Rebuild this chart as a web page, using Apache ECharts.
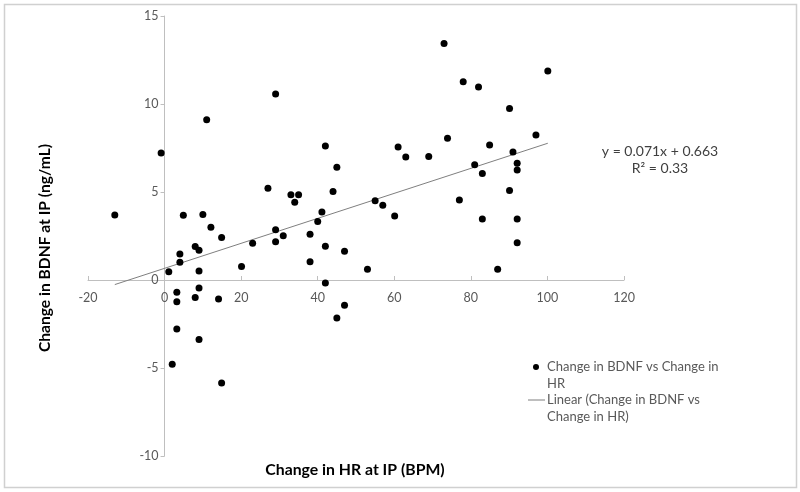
<!DOCTYPE html>
<html>
<head>
<meta charset="utf-8">
<script src="https://cdn.jsdelivr.net/npm/echarts@6/dist/echarts.min.js"></script>
<style>
html,body{margin:0;padding:0;background:#fff;}
#chart{width:800px;height:492px;}
</style>
</head>
<body>
<div id="chart"></div>
<script>
// Change in HR at IP (BPM)
var hrChange = [-13, -0.9, 1.1, 2.0, 3.2, 3.2, 3.2, 4.0, 4.0, 4.9,
  8.0, 8.0, 9.0, 9.0, 9.0, 9.0, 10.0, 11.0, 12.1, 14.1,
  14.9, 14.9, 20.1, 23.0, 27.0, 29.0, 29.0, 29.0, 31.0, 33.0,
  34.0, 35.0, 38.0, 38.0, 40.0, 41.1, 42.0, 42.0, 42.0, 44.0,
  45.0, 45.0, 47.0, 47.0, 53.0, 55.0, 57.0, 60.1, 61.0, 63.0,
  69.0, 73.0, 73.9, 77.0, 78.0, 81.0, 82.0, 83.0, 83.0, 84.9,
  87.0, 90.1, 90.1, 91.0, 92.1, 92.1, 92.1, 92.1, 97.0, 100.1];
// Change in BDNF at IP (ng/mL)
var bdnfChange = [3.7, 7.21, 0.47, -4.78, -0.70, -1.23, -2.79, 1.48, 1.01, 3.68,
  1.90, -0.99, 1.69, 0.51, -0.46, -3.38, 3.72, 9.11, 3.0, -1.08,
  2.41, -5.85, 0.76, 2.09, 5.22, 10.57, 2.85, 2.18, 2.52, 4.84,
  4.42, 4.84, 2.60, 1.04, 3.32, 3.87, 7.61, 1.92, -0.17, 5.03,
  6.40, -2.16, 1.63, -1.44, 0.61, 4.5, 4.25, 3.63, 7.56, 6.99,
  7.02, 13.44, 8.05, 4.55, 11.26, 6.55, 10.97, 6.05, 3.47, 7.67,
  0.61, 9.74, 5.09, 7.27, 6.64, 6.25, 3.47, 2.12, 8.24, 11.88];
// Linear trendline as shown on the chart
var trendSlope = 0.071;
var trendIntercept = 0.663;
var xTicks = {min: -20, max: 120, interval: 20};
var yTicks = {min: -10, max: 15, interval: 5};
var seriesName = 'Change in BDNF vs Change in HR';
var trendName = 'Linear (Change in BDNF vs Change in HR)';

var points = hrChange.map(function (x, i) { return [x, bdnfChange[i]]; });
var xMin = Math.min.apply(null, hrChange), xMax = Math.max.apply(null, hrChange);
var trend = [[xMin, trendSlope * xMin + trendIntercept], [xMax, trendSlope * xMax + trendIntercept]];

var GRID = {left: 88, right: 176, top: 16, bottom: 36};
var gridWidth = 800 - GRID.left - GRID.right;
var gridHeight = 492 - GRID.top - GRID.bottom;
// move each axis so it crosses the other at 0
var yOffset = -(0 - xTicks.min) / (xTicks.max - xTicks.min) * gridWidth;
var xOffset = -(0 - yTicks.min) / (yTicks.max - yTicks.min) * gridHeight;

var FONT = 'Lato, "Open Sans", sans-serif';
var chart = echarts.init(document.getElementById('chart'), null, {renderer: 'canvas'});
chart.setOption({
  backgroundColor: '#ffffff',
  animation: false,
  grid: GRID,
  xAxis: {
    type: 'value', min: xTicks.min, max: xTicks.max, interval: xTicks.interval,
    position: 'bottom', offset: xOffset,
    splitLine: {show: false},
    axisLine: {onZero: false, lineStyle: {color: '#bfbfbf', width: 1}},
    axisTick: {show: true, inside: true, length: 4, lineStyle: {color: '#bfbfbf'}},
    axisLabel: {color: '#595959', fontSize: 12.5, fontFamily: FONT, margin: 11}
  },
  yAxis: {
    type: 'value', min: yTicks.min, max: yTicks.max, interval: yTicks.interval,
    position: 'left', offset: yOffset,
    splitLine: {show: false},
    axisLine: {show: true, onZero: false, lineStyle: {color: '#bfbfbf', width: 1}},
    axisTick: {show: true, length: 4, lineStyle: {color: '#bfbfbf'}},
    axisLabel: {color: '#595959', fontSize: 12.5, fontFamily: FONT, margin: 6}
  },
  series: [
    {
      name: seriesName, type: 'scatter', data: points,
      symbol: 'circle', symbolSize: 7,
      itemStyle: {color: '#000000', opacity: 1}
    },
    {
      name: trendName, type: 'line', data: trend,
      symbol: 'none', lineStyle: {color: '#7f7f7f', width: 1},
      z: 1
    }
  ],
  graphic: [
    {type: 'rect', shape: {x: 4.5, y: 4.5, width: 792, height: 483},
     style: {fill: 'none', stroke: '#d0d0d0', lineWidth: 1.5}, silent: true, z: -1},
    {type: 'text', x: 45, y: 248, rotation: Math.PI / 2,
     style: {text: 'Change in BDNF at IP (ng/mL)', fontFamily: FONT, fontSize: 15.6, fontWeight: 'bold',
       fill: '#000', align: 'center', verticalAlign: 'middle'}},
    {type: 'text', x: 355, y: 470,
     style: {text: 'Change in HR at IP (BPM)', fontFamily: FONT, fontSize: 15.8, fontWeight: 'bold',
       fill: '#000', align: 'center', verticalAlign: 'middle'}},
    {type: 'text', x: 660, y: 151,
     style: {text: 'y = 0.071x + 0.663', fontFamily: FONT, fontSize: 14, fill: '#404040',
       align: 'center', verticalAlign: 'middle'}},
    {type: 'text', x: 660, y: 168,
     style: {text: 'R² = 0.33', fontFamily: FONT, fontSize: 14, fill: '#404040',
       align: 'center', verticalAlign: 'middle'}},
    {type: 'circle', shape: {cx: 536, cy: 367, r: 3}, style: {fill: '#000'}},
    {type: 'text', x: 547, y: 358.5,
     style: {text: 'Change in BDNF vs Change in\nHR', fontFamily: FONT, fontSize: 13, fill: '#595959',
       lineHeight: 17, align: 'left', verticalAlign: 'top'}},
    {type: 'line', shape: {x1: 528, y1: 400, x2: 545, y2: 400}, style: {stroke: '#7f7f7f', lineWidth: 1}},
    {type: 'text', x: 547, y: 391.5,
     style: {text: 'Linear (Change in BDNF vs\nChange in HR)', fontFamily: FONT, fontSize: 13, fill: '#595959',
       lineHeight: 17, align: 'left', verticalAlign: 'top'}}
  ]
});
</script>
</body>
</html>
